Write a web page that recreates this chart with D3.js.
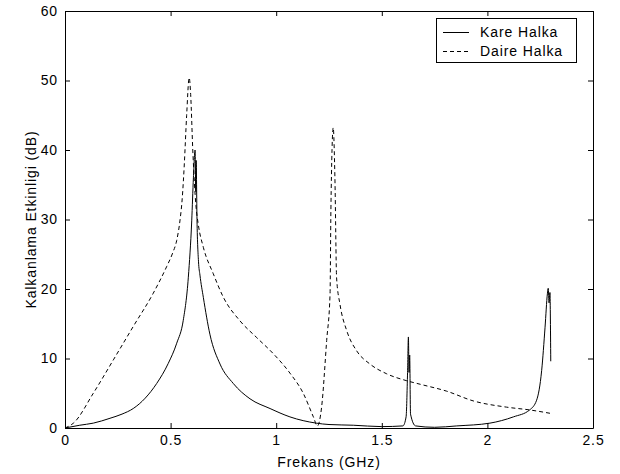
<!DOCTYPE html>
<html>
<head>
<meta charset="utf-8">
<script src="https://cdn.jsdelivr.net/npm/d3@7"></script>
<style>
  body { margin: 0; background: #fff; }
  text { font-family: "Liberation Sans", Arial, sans-serif; letter-spacing: 0.9px; }
</style>
</head>
<body>
<svg id="chart"></svg>
<script>
//Kare Halka (solid)
var kareFreq = [0, 0.07, 0.134, 0.213, 0.27, 0.323, 0.38, 0.434, 0.489, 0.529, 0.56, 0.584, 0.6, 0.608, 0.616, 0.619, 0.621, 0.625, 0.632, 0.639, 0.655, 0.686, 0.734, 0.797, 0.876, 0.971, 1.065, 1.19, 1.25, 1.365, 1.5, 1.6, 1.615, 1.622, 1.626, 1.629, 1.632, 1.636, 1.66, 1.75, 1.855, 2.012, 2.123, 2.2, 2.233, 2.257, 2.273, 2.284, 2.288, 2.292, 2.296, 2.3];
var kareDb = [0, 0.4, 0.7, 1.4, 2.0, 2.8, 4.3, 6.4, 9.3, 12.2, 15.5, 21.7, 29.8, 36, 40, 34, 38.5, 30, 24, 22, 18.8, 13.5, 9.2, 6.4, 4.2, 2.8, 1.6, 0.7, 0.5, 0.4, 0.2, 0.3, 1.6, 8, 13.1, 8, 10.5, 2, 0.3, 0.1, 0.3, 0.7, 1.6, 2.6, 4.0, 8.3, 14.5, 19.3, 20.1, 18, 19.5, 9.6];

//Daire Halka (dashed)
var daireFreq = [0, 0.04, 0.134, 0.229, 0.323, 0.418, 0.481, 0.51, 0.529, 0.545, 0.555, 0.565, 0.576, 0.588, 0.595, 0.605, 0.62, 0.631, 0.655, 0.702, 0.75, 0.829, 0.908, 0.986, 1.065, 1.128, 1.176, 1.195, 1.215, 1.239, 1.255, 1.259, 1.27, 1.278, 1.286, 1.302, 1.334, 1.381, 1.444, 1.523, 1.618, 1.681, 1.807, 1.933, 2.091, 2.2, 2.3];
var daireDb = [0, 0.7, 5, 9.8, 14.6, 19.4, 23.2, 25.2, 27, 30, 33, 38, 45, 50.4, 48, 40, 32, 29.3, 26, 22.2, 18.8, 15.4, 13, 10.7, 7.9, 5, 1.6, 0.3, 3, 12.6, 19.3, 31.4, 43.2, 36, 21.6, 17.8, 14, 11.1, 9.2, 7.8, 6.8, 6.3, 5.3, 3.9, 3.0, 2.6, 2.1];

var xTicks = [0, 0.5, 1, 1.5, 2, 2.5];
var yTicks = [0, 10, 20, 30, 40, 50, 60];
var legendLabels = ["Kare Halka", "Daire Halka"];

var dimensions = {
    width: 620,
    height: 474,
    margin: { top: 11, right: 27, bottom: 46, left: 65 }
};

var svg = d3.select("#chart")
            .attr("width", dimensions.width)
            .attr("height", dimensions.height);

var x0 = dimensions.margin.left;
var x1 = dimensions.width - dimensions.margin.right;
var y0 = dimensions.height - dimensions.margin.bottom;
var y1 = dimensions.margin.top;

var xScale = d3.scaleLinear().domain([0, 2.5]).range([x0, x1]);
var yScale = d3.scaleLinear().domain([0, 60]).range([y0, y1]);

//Axes, MATLAB style ticks pointing inward on all four sides
var fmt = function(d){ return String(d); };
var tickLen = 5;

var bottomAxis = svg.append("g")
    .attr("transform", "translate(0," + y0 + ")")
    .call(d3.axisBottom(xScale).tickValues(xTicks).tickFormat(fmt).tickSizeInner(-tickLen).tickSizeOuter(0).tickPadding(7));
var topAxis = svg.append("g")
    .attr("transform", "translate(0," + y1 + ")")
    .call(d3.axisTop(xScale).tickValues(xTicks).tickFormat("").tickSizeInner(-tickLen).tickSizeOuter(0));
var leftAxis = svg.append("g")
    .attr("transform", "translate(" + x0 + ",0)")
    .call(d3.axisLeft(yScale).tickValues(yTicks).tickFormat(fmt).tickSizeInner(-tickLen).tickSizeOuter(0).tickPadding(7));
var rightAxis = svg.append("g")
    .attr("transform", "translate(" + x1 + ",0)")
    .call(d3.axisRight(yScale).tickValues(yTicks).tickFormat("").tickSizeInner(-tickLen).tickSizeOuter(0));

svg.selectAll(".domain").attr("stroke", "#000").attr("stroke-width", 1);
svg.selectAll(".tick line").attr("stroke", "#000");
svg.selectAll(".tick text").style("font-size", "14px").attr("fill", "#000");

//Axis titles
svg.append("text")
    .attr("x", (x0 + x1) / 2)
    .attr("y", 467)
    .attr("text-anchor", "middle")
    .style("font-size", "14px")
    .text("Frekans (GHz)");

svg.append("text")
    .attr("transform", "rotate(-90)")
    .attr("x", -(y0 + y1) / 2)
    .attr("y", 36)
    .attr("text-anchor", "middle")
    .style("font-size", "14px")
    .text("Kalkanlama Etkinligi (dB)");

//Lines
var line = d3.line()
    .curve(d3.curveMonotoneX)
    .x(function(d){ return xScale(d[0]); })
    .y(function(d){ return yScale(d[1]); });

var kareData = d3.zip(kareFreq, kareDb);
var daireData = d3.zip(daireFreq, daireDb);

svg.append("path")
    .datum(daireData)
    .attr("d", line)
    .attr("fill", "none")
    .attr("stroke", "#000")
    .attr("stroke-width", 1)
    .attr("stroke-dasharray", "4,3");

svg.append("path")
    .datum(kareData)
    .attr("d", line)
    .attr("fill", "none")
    .attr("stroke", "#000")
    .attr("stroke-width", 1);

//Legend
var legend = svg.append("g").attr("transform", "translate(436,18)");
legend.append("rect")
    .attr("x", 0.5).attr("y", 0.5)
    .attr("width", 140).attr("height", 44)
    .attr("fill", "#fff")
    .attr("stroke", "#000");

legendLabels.forEach(function(label, i){
    var ly = 14 + i * 19;
    legend.append("line")
        .attr("x1", 7).attr("x2", 33)
        .attr("y1", ly + 0.5).attr("y2", ly + 0.5)
        .attr("stroke", "#000")
        .attr("stroke-dasharray", i === 1 ? "4,3" : null);
    legend.append("text")
        .attr("x", 44)
        .attr("y", ly + 5)
        .style("font-size", "14px")
        .text(label);
});
</script>
</body>
</html>
